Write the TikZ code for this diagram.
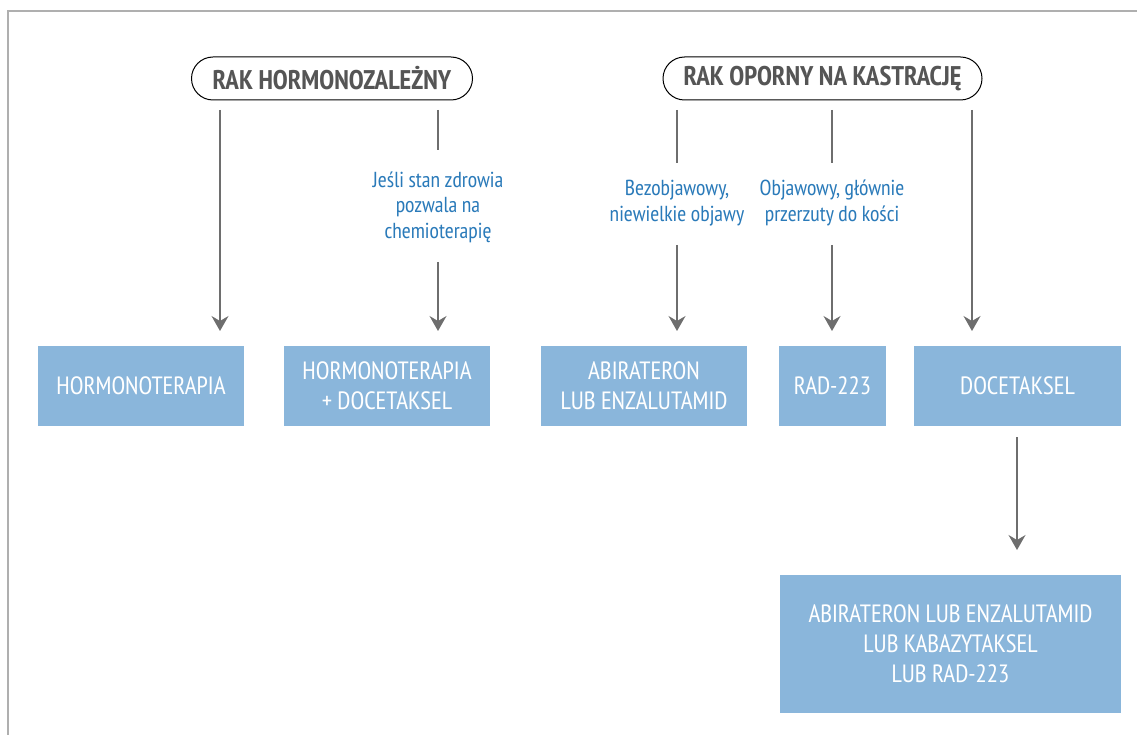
\documentclass[tikz,border=0pt]{standalone}
\usepackage{fontspec}
\setmainfont{PT Sans Narrow}
\usetikzlibrary{arrows.meta}
\definecolor{boxblue}{RGB}{138,182,219}
\definecolor{txtblue}{RGB}{42,122,185}
\definecolor{linegray}{RGB}{110,110,110}
\definecolor{frame}{RGB}{175,175,175}
\definecolor{pilltext}{RGB}{85,85,85}
\tikzset{
  treat/.style={fill=boxblue, draw=none, text=white, align=center, inner sep=0pt,
    font=\fontsize{25}{30}\selectfont},
  pill/.style={draw=black, line width=1pt, rounded corners=21.5pt, minimum height=43pt,
    inner sep=0pt, text=pilltext, font=\fontsize{27}{30}\selectfont\bfseries},
  cond/.style={text=txtblue, align=center, inner sep=0pt, font=\fontsize{21.7}{25.5}\selectfont},
  conn/.style={draw=linegray, line width=1.3pt},
  arr/.style={conn, -{Stealth[length=15pt, width=17pt, inset=5pt]}}
}
\begin{document}
\begin{tikzpicture}[x=1pt,y=1pt]
\useasboundingbox (0,0) rectangle (1137,-735);
\draw[frame, line width=2pt] (8,-735) -- (8,-11) -- (1137,-11);
% headers
\node[pill, minimum width=281pt] (h1) at (332,-78.5) {RAK HORMONOZALEŻNY};
\node[pill, minimum width=319pt] (h2) at (822.5,-78.5) {RAK OPORNY NA KASTRACJĘ};
% boxes
\node[treat, minimum width=206pt, minimum height=80pt] (b1) at (141,-386) {HORMONOTERAPIA};
\node[treat, minimum width=206pt, minimum height=80pt] (b2) at (387,-386) {HORMONOTERAPIA\\+ DOCETAKSEL};
\node[treat, minimum width=206pt, minimum height=80pt] (b3) at (644,-386) {ABIRATERON\\LUB ENZALUTAMID};
\node[treat, minimum width=107pt, minimum height=80pt] (b4) at (832.5,-386) {RAD-223};
\node[treat, minimum width=207pt, minimum height=80pt] (b5) at (1017.5,-386) {DOCETAKSEL};
\node[treat, minimum width=341pt, minimum height=138pt] (b6) at (950.5,-644) {ABIRATERON LUB ENZALUTAMID\\LUB KABAZYTAKSEL\\LUB RAD-223};
% condition labels
\node[cond] (c2) at (438,-207) {Jeśli stan zdrowia\\pozwala na\\chemioterapię};
\node[cond] (c3) at (677,-203) {Bezobjawowy,\\niewielkie objawy};
\node[cond] (c4) at (832,-203) {Objawowy, głównie\\przerzuty do kości};
% connector points
\coordinate (s1) at (220,-110);
\coordinate (e1) at (220,-331);
\coordinate (s2) at (438,-110);
\coordinate (m2a) at (438,-150);
\coordinate (m2b) at (438,-262);
\coordinate (e2) at (438,-331);
\coordinate (s3) at (677,-110);
\coordinate (m3a) at (677,-163);
\coordinate (m3b) at (677,-245);
\coordinate (e3) at (677,-331);
\coordinate (s4) at (832,-110);
\coordinate (m4a) at (832,-163);
\coordinate (m4b) at (832,-245);
\coordinate (e4) at (832,-331);
\coordinate (s5) at (972,-110);
\coordinate (e5) at (972,-331);
\coordinate (s6) at (1017,-437);
\coordinate (e6) at (1017,-550);
% connectors
\draw[arr] (s1) -- (e1);
\draw[conn] (s2) -- (m2a);
\draw[arr] (m2b) -- (e2);
\draw[conn] (s3) -- (m3a);
\draw[arr] (m3b) -- (e3);
\draw[conn] (s4) -- (m4a);
\draw[arr] (m4b) -- (e4);
\draw[arr] (s5) -- (e5);
\draw[arr] (s6) -- (e6);
\end{tikzpicture}
\end{document}
